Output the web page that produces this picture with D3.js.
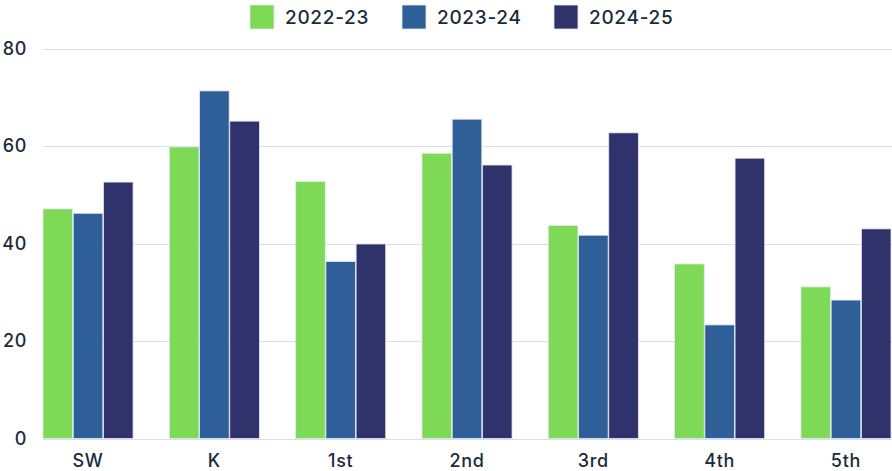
<!DOCTYPE html>
<html lang="en">
<head>
    <meta charset="UTF-8">
    <title>grade chart</title>
    <script src="https://cdn.jsdelivr.net/npm/d3@7"></script>
    <style>
        body { margin: 0; background: #fff; font-family: "Inter", "Noto Sans", sans-serif; }
        text { font-weight: 500; letter-spacing: 0.7px; fill: #1b2b3c; }
    </style>
</head>
<body>
<script>
    let width = 892;
    let height = 471;

    // data
    let grades = ["SW", "K", "1st", "2nd", "3rd", "4th", "5th"];
    let years = ["2022-23", "2023-24", "2024-25"];
    let v2223 = [47.1, 59.8, 52.7, 58.5, 43.7, 35.8, 31.1];
    let v2324 = [46.2, 71.3, 36.3, 65.5, 41.7, 23.3, 28.4];
    let v2425 = [52.6, 65.1, 39.9, 56.1, 62.7, 57.5, 43.0];
    let yTicks = [0, 20, 40, 60, 80];
    let colours = ["#7ed957", "#2e5f99", "#30336b"];

    let margin = { top: 48.5, right: 1, bottom: 32.5, left: 43 };

    let rows = grades.map(function (g, i) {
        return { grade: g, vals: [v2223[i], v2324[i], v2425[i]] };
    });

    let svg = d3.select("body").append("svg")
        .attr("width", width)
        .attr("height", height);

    let x = d3.scaleBand()
        .domain(grades)
        .range([margin.left, width - margin.right])
        .paddingInner(0.287)
        .paddingOuter(0);

    let x1 = d3.scaleBand()
        .domain(years)
        .range([0, x.bandwidth()])
        .paddingInner(0.02);

    let y = d3.scaleLinear()
        .domain([0, 80])
        .range([height - margin.bottom, margin.top]);

    // grid lines
    svg.append("g").selectAll("line")
        .data(yTicks)
        .enter().append("line")
        .attr("x1", margin.left)
        .attr("x2", width)
        .attr("y1", function (d) { return Math.round(y(d)) + 0.5; })
        .attr("y2", function (d) { return Math.round(y(d)) + 0.5; })
        .style("stroke", "#d9dfe6")
        .style("stroke-width", 1.2);

    // y labels
    svg.append("g").selectAll("text")
        .data(yTicks)
        .enter().append("text")
        .attr("x", 27)
        .attr("y", function (d) { return y(d); })
        .attr("dy", "0.35em")
        .attr("text-anchor", "end")
        .style("font-size", "18px")
        .text(function (d) { return d; });

    // bars
    let groups = svg.append("g").selectAll("g")
        .data(rows)
        .enter().append("g")
        .attr("transform", function (d) { return "translate(" + x(d.grade) + ",0)"; });

    groups.selectAll("rect")
        .data(function (d) { return d.vals; })
        .enter().append("rect")
        .attr("x", function (d, i) { return x1(years[i]); })
        .attr("y", function (d) { return y(d); })
        .attr("width", x1.bandwidth())
        .attr("height", function (d) { return y(0) - y(d); })
        .style("fill", function (d, i) { return colours[i]; })
        .style("stroke", "#e4e8f0")
        .style("stroke-width", 0.8);

    // x labels
    svg.append("g").selectAll("text")
        .data(grades)
        .enter().append("text")
        .attr("x", function (d) { return x(d) + x.bandwidth() / 2; })
        .attr("y", 461)
        .attr("dy", "0.35em")
        .attr("text-anchor", "middle")
        .style("font-size", "18px")
        .text(function (d) { return d; });

    // legend
    let legendX = [250, 402, 554];
    let legend = svg.append("g").selectAll("g")
        .data(years)
        .enter().append("g")
        .attr("transform", function (d, i) { return "translate(" + legendX[i] + ",5)"; });

    legend.append("rect")
        .attr("width", 24)
        .attr("height", 24)
        .style("fill", function (d, i) { return colours[i]; })
        .style("stroke", "#e4e8f0")
        .style("stroke-width", 0.8);

    legend.append("text")
        .attr("x", 35)
        .attr("y", 12)
        .attr("dy", "0.35em")
        .style("font-size", "19px")
        .text(function (d) { return d; });
</script>
</body>
</html>
